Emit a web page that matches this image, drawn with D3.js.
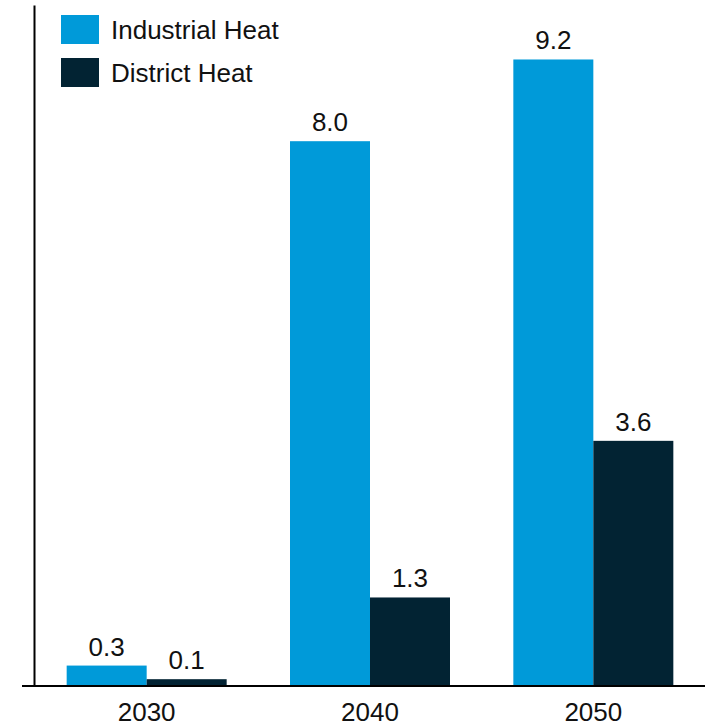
<!DOCTYPE html>
<html>
<head>
<meta charset="utf-8">
<script src="https://cdn.jsdelivr.net/npm/d3@7"></script>
<style>
  body { margin: 0; background: #fff; }
  text { font-family: "Liberation Sans", Arial, sans-serif; }
</style>
</head>
<body>
<div class="chart"></div>
<script>
// Data
var years = ["2030", "2040", "2050"];
var seriesNames = ["Industrial Heat", "District Heat"];
var industrialHeat = [0.3, 8.0, 9.2];
var districtHeat = [0.1, 1.3, 3.6];
var seriesColors = ["#009ad9", "#022333"];

var width = 710;
var height = 726;
var margin = ({ top: 5, right: 5, bottom: 40, left: 35 });

// Build rows for the grouped bars
var data = years.map((y, i) => ({ year: y, "Industrial Heat": industrialHeat[i], "District Heat": districtHeat[i] }));

const svg = d3.select("div.chart")
    .append("svg")
    .attr("width", width)
    .attr("height", height);

// Scales
var x0 = d3.scaleBand()
    .domain(years)
    .range([margin.left, width - margin.right])
    .paddingInner(0.2836)
    .paddingOuter(0.1418);
var x1 = d3.scaleBand()
    .domain(seriesNames)
    .range([0, x0.bandwidth()]);
var y = d3.scaleLinear()
    .domain([0, 10])
    .range([height - margin.bottom, margin.top]);
var color = d3.scaleOrdinal()
    .domain(seriesNames)
    .range(seriesColors);

// Bars
var groups = svg.append("g")
    .selectAll("g")
    .data(data)
    .join("g")
    .attr("transform", d => `translate(${x0(d.year)},0)`);

groups.selectAll("rect")
    .data(d => seriesNames.map(k => ({ key: k, value: d[k] })))
    .join("rect")
      .attr("x", d => x1(d.key))
      .attr("y", d => y(d.value))
      .attr("width", x1.bandwidth())
      .attr("height", d => y(0) - y(d.value))
      .attr("fill", d => color(d.key));

// Value labels above bars
groups.selectAll("text")
    .data(d => seriesNames.map(k => ({ key: k, value: d[k] })))
    .join("text")
      .attr("x", d => x1(d.key) + x1.bandwidth() / 2)
      .attr("y", d => y(d.value) - 10)
      .attr("text-anchor", "middle")
      .style("font-size", "26px")
      .attr("fill", "#111")
      .text(d => d3.format(".1f")(d.value));

// X axis: line from a bit left of the y axis, labels under each group
var xAxis = g => g
    .attr("transform", `translate(0,${y(0)})`)
    .call(d3.axisBottom(x0).tickSize(0).tickPadding(17))
    .call(g => g.select(".domain")
        .attr("d", `M22,0H${width - margin.right}`)
        .attr("stroke", "#000")
        .attr("stroke-width", 2))
    .call(g => g.selectAll(".tick text")
        .style("font-family", "Liberation Sans, Arial, sans-serif")
        .style("font-size", "26px")
        .attr("fill", "#111"));

// Y axis: just the line, no ticks
var yAxis = g => g
    .attr("transform", `translate(${margin.left - 1},0)`)
    .call(d3.axisLeft(y).ticks(0).tickSize(0).tickFormat(""))
    .call(g => g.select(".domain")
        .attr("stroke", "#000")
        .attr("stroke-width", 2));

svg.append("g").call(yAxis);
svg.append("g").call(xAxis);

// Legend
var legend = svg.append("g")
    .selectAll("g")
    .data(seriesNames)
    .join("g")
    .attr("transform", (d, i) => `translate(61,${15 + i * 43})`);

legend.append("rect")
    .attr("width", 38)
    .attr("height", 29)
    .attr("fill", d => color(d));

legend.append("text")
    .attr("x", 50)
    .attr("y", 24)
    .style("font-size", "26px")
    .attr("fill", "#111")
    .text(d => d);
</script>
</body>
</html>
